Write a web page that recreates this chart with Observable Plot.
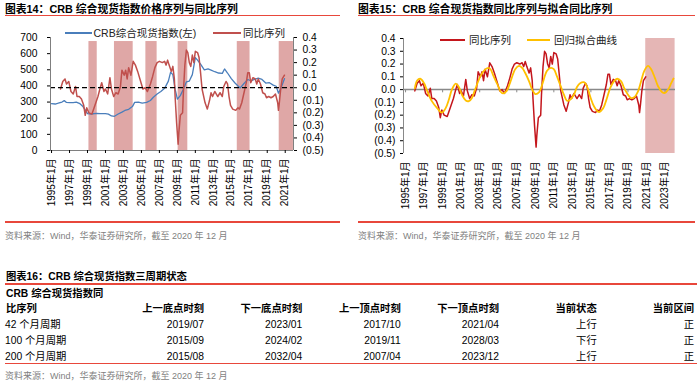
<!DOCTYPE html>
<html><head><meta charset="utf-8">
<script src="https://cdn.jsdelivr.net/npm/d3@7"></script>
<script src="https://cdn.jsdelivr.net/npm/@observablehq/plot@0.6"></script>
<style>
html,body{margin:0;padding:0;background:#fff;}
body{width:700px;height:383px;overflow:hidden;position:relative;font-family:"Liberation Sans","Noto Sans CJK SC",sans-serif;color:#000;}
.abs{position:absolute;white-space:nowrap;height:14px;line-height:14px;}
.ttl{font-weight:bold;font-size:10.8px;}
.rule{position:absolute;height:1.6px;background:#e8473b;}
.src{font-size:9px;color:#7f7f7f;}
.leg{font-size:10.5px;color:#222;}
.sw{position:absolute;height:1.8px;}
.tb{font-size:10.3px;}
.b{font-weight:bold;}
.plot{position:absolute;}
</style></head>
<body>
<script>
// ---------------- DATA ----------------
const priceDates = ["1995-01","1995-06","1995-10","1996-03","1996-06","1996-09","1997-01","1997-06","1997-10","1998-03","1998-07","1998-10","1999-01","1999-06","2000-01","2000-06","2001-01","2001-05","2001-09","2002-01","2002-06","2002-11","2003-03","2003-08","2004-01","2004-04","2004-09","2005-02","2005-08","2006-01","2006-05","2006-10","2007-03","2007-08","2008-01","2008-04","2008-07","2008-10","2009-01","2009-05","2009-09","2010-01","2010-05","2010-09","2011-01","2011-04","2011-08","2012-01","2012-06","2012-10","2013-03","2013-08","2014-01","2014-04","2014-08","2015-01","2015-06","2015-11","2016-01","2016-06","2016-11","2017-03","2017-08","2018-01","2018-06","2018-11","2019-04","2019-09","2020-01","2020-04","2020-07","2020-10","2020-12"];
const priceValues = [290,288,293,300,309,298,296,297,300,290,272,252,228,226,230,228,228,225,214,212,226,238,248,255,272,298,300,294,298,310,330,350,365,385,430,485,470,380,318,340,380,425,430,470,575,560,535,500,505,498,488,480,478,505,480,445,418,395,388,415,440,432,440,448,440,418,420,405,398,355,382,420,445];

const yoyDates = ["1996-01","1996-04","1996-07","1996-09","1996-12","1997-03","1997-06","1997-09","1997-11","1998-02","1998-05","1998-08","1998-10","1998-12","1999-03","1999-07","1999-11","2000-03","2000-06","2000-08","2000-11","2001-01","2001-04","2001-07","2001-09","2001-12","2002-03","2002-06","2002-09","2002-11","2003-02","2003-04","2003-06","2003-08","2003-11","2004-02","2004-05","2004-08","2004-12","2005-03","2005-06","2005-09","2006-01","2006-04","2006-07","2006-10","2007-01","2007-05","2007-08","2007-10","2007-12","2008-02","2008-05","2008-07","2008-09","2008-10","2008-12","2009-02","2009-03","2009-05","2009-08","2009-09","2009-11","2010-01","2010-03","2010-05","2010-07","2010-09","2010-11","2011-01","2011-04","2011-06","2011-08","2011-10","2012-02","2012-05","2012-08","2012-10","2012-12","2013-03","2013-07","2013-10","2014-01","2014-03","2014-06","2014-08","2014-10","2014-12","2015-03","2015-07","2015-10","2015-12","2016-03","2016-06","2016-09","2016-11","2017-01","2017-03","2017-06","2017-09","2017-11","2018-01","2018-04","2018-07","2018-10","2018-12","2019-03","2019-06","2019-09","2019-12","2020-03","2020-04","2020-05","2020-07","2020-09","2020-12"];
const yoyValues = [-0.01,0.05,0.07,0.03,0.05,-0.03,-0.05,0.01,-0.07,-0.07,-0.09,-0.14,-0.22,-0.16,-0.20,-0.21,-0.14,-0.07,0.00,0.04,-0.03,-0.01,-0.05,0.08,-0.01,-0.07,-0.04,-0.05,0.01,0.14,0.10,0.14,0.07,0.16,0.10,0.21,0.18,0.13,0.05,-0.01,0.00,-0.03,0.03,0.09,0.16,0.20,0.21,0.20,0.21,0.18,0.22,0.18,0.13,0.17,0.07,-0.07,-0.28,-0.45,-0.36,-0.22,-0.20,-0.04,0.18,0.30,0.28,0.20,0.17,0.26,0.20,0.29,0.28,0.24,0.12,-0.01,-0.12,-0.17,-0.10,-0.04,-0.07,-0.03,-0.07,-0.04,-0.07,0.01,0.05,0.03,-0.07,-0.14,-0.17,-0.18,-0.16,-0.17,-0.12,-0.04,0.04,0.12,0.12,0.04,0.08,0.07,0.03,0.07,0.03,-0.04,-0.05,-0.08,-0.07,-0.08,-0.07,-0.05,-0.12,-0.18,-0.13,-0.01,0.07,0.10];

const fitDates = ["1996-01","1996-04","1996-08","1997-01","1997-05","1997-11","1998-06","1998-12","1999-05","1999-09","2000-01","2000-06","2000-10","2001-02","2001-07","2001-11","2002-03","2002-07","2003-02","2003-07","2003-12","2004-03","2004-07","2004-12","2005-04","2005-07","2005-12","2006-05","2006-11","2007-04","2007-08","2007-12","2008-05","2008-09","2009-01","2009-06","2009-10","2010-04","2010-09","2011-01","2011-05","2011-10","2012-02","2012-06","2012-10","2013-03","2013-07","2013-11","2014-04","2014-08","2014-12","2015-05","2015-11","2016-05","2016-09","2017-02","2017-07","2017-11","2018-04","2018-08","2019-01","2019-05","2019-09","2020-02","2020-06","2020-10","2021-03","2021-07","2021-12","2022-04","2022-09","2023-01","2023-05","2023-09","2023-12"];
const fitValues = [0.01,0.07,0.085,0.05,-0.01,-0.09,-0.145,-0.18,-0.145,-0.08,0.00,0.047,0.02,-0.04,-0.085,-0.09,-0.065,0.00,0.105,0.15,0.17,0.16,0.105,0.04,-0.015,-0.03,-0.01,0.065,0.16,0.185,0.17,0.13,0.065,0.00,-0.035,-0.02,0.04,0.145,0.17,0.16,0.105,0.025,-0.04,-0.087,-0.08,-0.04,0.02,0.05,0.058,0.026,-0.053,-0.13,-0.175,-0.145,-0.08,0.013,0.066,0.085,0.066,0.013,-0.04,-0.066,-0.06,-0.013,0.066,0.145,0.185,0.16,0.09,0.026,-0.018,-0.026,0.00,0.05,0.087];

const shade14Start = ["1999-03","2002-01","2005-07","2009-02","2015-09","2020-05"];
const shade14End   = ["2000-02","2004-02","2006-10","2010-03","2017-02","2021-12"];
const shade15Start = ["2020-12"];
const shade15End   = ["2024-02"];

const xLabelYears14 = [1995,1997,1999,2001,2003,2005,2007,2009,2011,2013,2015,2017,2019,2021];
const xLabelYears15 = [1995,1997,1999,2001,2003,2005,2007,2009,2011,2013,2015,2017,2019,2021,2023];
const zeroTickYears15 = [1995,1999,2003,2007,2011,2015,2019,2023];
const leftTicks14 = [0,100,200,300,400,500,600,700];
const rightTicks14 = [-0.5,-0.4,-0.3,-0.2,-0.1,0.0,0.1,0.2,0.3,0.4];
const ticks15 = [-0.5,-0.4,-0.3,-0.2,-0.1,0.0,0.1,0.2,0.3,0.4];

const title14 = "图表14：CRB 综合现货指数价格序列与同比序列";
const title15 = "图表15：CRB 综合现货指数同比序列与拟合同比序列";
const title16 = "图表16：CRB 综合现货指数三周期状态";
const sourceText = "资料来源：Wind，华泰证券研究所，截至 2020 年 12 月";
const seriesNames14 = ["CRB综合现货指数(左)","同比序列"];
const seriesNames15 = ["同比序列","回归拟合曲线"];

const tableCorner = ["CRB 综合现货指数同","比序列"];
const tableHeaders = ["上一底点时刻","下一底点时刻","上一顶点时刻","下一顶点时刻","当前状态","当前区间"];
const cycleNames = ["42 个月周期","100 个月周期","200 个月周期"];
const lastTrough = ["2019/07","2015/09","2015/08"];
const nextTrough = ["2023/01","2024/02","2032/04"];
const lastPeak = ["2017/10","2019/11","2007/04"];
const nextPeak = ["2021/04","2028/03","2023/12"];
const currentState = ["上行","下行","上行"];
const currentZone = ["正","正","正"];

// ---------------- HELPERS ----------------
const ym = s => { const [y,m] = s.split("-").map(Number); return new Date(Date.UTC(y, m-1, 1)); };
const fmtPct = v => { const r = Math.round(v*10)/10; if (Math.abs(r) < 1e-9) return "0.0"; return r < 0 ? `(${(-r).toFixed(1)})` : r.toFixed(1); };
const body = document.body;
function txt(s, x, yc, cls, align) {
  const d = document.createElement("div");
  d.className = "abs " + (cls || "");
  d.textContent = s;
  d.style.top = (yc - 7) + "px";
  if (align === "right") d.style.right = (700 - x) + "px"; else d.style.left = x + "px";
  body.appendChild(d);
}
function hrule(x1, x2, y) {
  const d = document.createElement("div");
  d.className = "rule";
  d.style.left = x1 + "px"; d.style.width = (x2 - x1) + "px"; d.style.top = (y - 0.8) + "px";
  body.appendChild(d);
}
function swatch(x1, x2, y, color, h) {
  const d = document.createElement("div");
  d.className = "sw";
  d.style.left = x1 + "px"; d.style.width = (x2 - x1) + "px"; d.style.top = (y - 1) + "px";
  d.style.background = color; if (h) d.style.height = h + "px";
  body.appendChild(d);
}
function place(svg, left, top) {
  const w = document.createElement("div");
  w.className = "plot"; w.style.left = left + "px"; w.style.top = top + "px";
  w.appendChild(svg); body.appendChild(w);
}
const font = '"Liberation Sans","Noto Sans CJK SC",sans-serif';

// ---------------- CHART 14 ----------------
const price = priceDates.map((d,i) => ({date: ym(d), value: priceValues[i]}));
const yoy = yoyDates.map((d,i) => ({date: ym(d), value: yoyValues[i]}));
const fit = fitDates.map((d,i) => ({date: ym(d), value: fitValues[i]}));
const yoyMin = -0.5, yoyMax = 0.4, leftMax = 700;
const toP = v => (v - yoyMin) / (yoyMax - yoyMin) * leftMax;
const fromP = p => p / leftMax * (yoyMax - yoyMin) + yoyMin;
const x14 = [new Date(Date.UTC(1994,10,20)), new Date(Date.UTC(2021,11,3))];
const shade14 = shade14Start.map((s,i) => ({start: ym(s), end: ym(shade14End[i])}));
const shadeTop14 = 675;

const chart14 = Plot.plot({
  width: 345, height: 200,
  marginLeft: 50, marginRight: 52, marginTop: 17, marginBottom: 70,
  style: {fontFamily: font, fontSize: "10px", color: "#000", background: "transparent", overflow: "visible"},
  x: {type: "utc", domain: x14},
  y: {domain: [0, leftMax]},
  marks: [
    Plot.rect(shade14, {x1: "start", x2: "end", y1: 0, y2: shadeTop14, fill: "#dfa7a6"}),
    Plot.line(price, {x: "date", y: "value", stroke: "#4a7ebb", strokeWidth: 1.3}),
    Plot.line(yoy, {x: "date", y: d => toP(d.value), stroke: "#c0504d", strokeWidth: 1.5}),
    Plot.ruleY([toP(0)], {stroke: "#000", strokeWidth: 1.3, strokeDasharray: "5,3"}),
    Plot.ruleX([x14[0]], {stroke: "#7f7f7f"}),
    Plot.ruleX([x14[1]], {stroke: "#7f7f7f"}),
    Plot.ruleY([0], {stroke: "#7f7f7f"}),
    Plot.axisY(leftTicks14, {anchor: "left", tickSize: 3, tickPadding: 10, label: null, fontSize: 10.3}),
    Plot.axisY(rightTicks14.map(toP), {anchor: "right", tickSize: 3, tickPadding: 6, label: null, tickFormat: p => fmtPct(fromP(p)), fontSize: 10.3}),
    Plot.axisX(xLabelYears14.map(y => new Date(Date.UTC(y,0,1))), {anchor: "bottom", tickSize: 3, tickPadding: 5, tickRotate: -90, label: null, tickFormat: d => `${d.getUTCFullYear()}年1月`})
  ]
});
place(chart14, 0, 20);

// ---------------- CHART 15 ----------------
const x15 = [new Date(Date.UTC(1994,9,12)), new Date(Date.UTC(2024,1,17))];
const shade15 = shade15Start.map((s,i) => ({start: ym(s), end: ym(shade15End[i])}));
const chart15 = Plot.plot({
  width: 345, height: 200,
  marginLeft: 53, marginRight: 20, marginTop: 18, marginBottom: 67,
  style: {fontFamily: font, fontSize: "10px", color: "#000", background: "transparent", overflow: "visible"},
  x: {type: "utc", domain: x15},
  y: {domain: [-0.5, 0.4]},
  marks: [
    Plot.rect(shade15, {x1: "start", x2: d => x15[1] < d.end ? x15[1] : d.end, y1: -0.5, y2: 0.4, fill: "#e5b6b5"}),
    Plot.ruleY([0], {stroke: "#898989", strokeWidth: 1.5}),
    Plot.ruleX(zeroTickYears15.map(y => new Date(Date.UTC(y,0,1))), {y1: 0, y2: -0.025, stroke: "#898989"}),
    Plot.ruleX([x15[0]], {stroke: "#898989"}),
    Plot.line(yoy, {x: "date", y: "value", stroke: "#c4161c", strokeWidth: 1.5}),
    Plot.line(fit, {x: "date", y: "value", stroke: "#ffc000", strokeWidth: 1.8, curve: "catmull-rom"}),
    Plot.axisY(ticks15, {anchor: "left", tickSize: 3, tickPadding: 5, label: null, tickFormat: fmtPct, fontSize: 10.3}),
    Plot.axisX(xLabelYears15.map(y => new Date(Date.UTC(y,0,1))), {anchor: "bottom", tickSize: 0, tickPadding: 8, tickRotate: -90, label: null, tickFormat: d => `${d.getUTCFullYear()}年1月`})
  ]
});
place(chart15, 350, 20);

// ---------------- TITLES, LEGENDS, SOURCES ----------------
txt(title14, 5, 9, "ttl");
hrule(5, 340, 15.5);
txt(title15, 358, 9, "ttl");
hrule(358, 695, 15.5);

swatch(65, 92, 33.3, "#4a7ebb");
txt(seriesNames14[0], 93.5, 33.3, "leg");
swatch(213, 241, 33.3, "#c0504d");
txt(seriesNames14[1], 243, 33.3, "leg");

swatch(440, 465, 40, "#c4161c");
txt(seriesNames15[0], 469, 40, "leg");
swatch(527, 550, 40, "#ffc000", 2);
txt(seriesNames15[1], 554, 40, "leg");

hrule(5, 340, 222);
txt(sourceText, 5, 236, "src");
hrule(358, 695, 222);
txt(sourceText, 358, 236, "src");

// ---------------- TABLE ----------------
txt(title16, 6, 276.5, "ttl tb", "left");
hrule(5, 696.5, 284);
txt(tableCorner[0], 6, 294, "tb b");
txt(tableCorner[1], 6, 308.5, "tb b");
const colRight = [204, 302.3, 400.7, 499, 596.7, 694];
tableHeaders.forEach((h,i) => txt(h, colRight[i], 308.5, "tb b", "right"));
const rowY = [325, 341, 356.5];
const cols = [lastTrough, nextTrough, lastPeak, nextPeak, currentState, currentZone];
cycleNames.forEach((name, r) => {
  txt(name, 5, rowY[r], "tb");
  cols.forEach((col, c) => txt(col[r], colRight[c], rowY[r], "tb", "right"));
});
hrule(5, 696.5, 363.7);
txt(sourceText, 5, 376, "src");
</script>
</body></html>
